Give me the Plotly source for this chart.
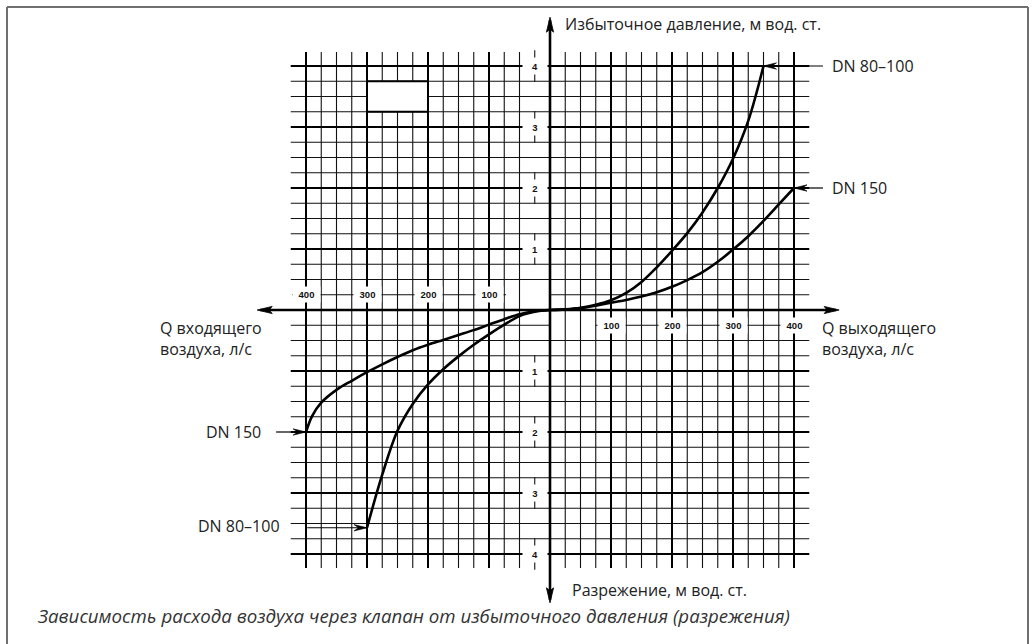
import numpy as np
import plotly.graph_objects as go

# ---------------- data ----------------
# positive side: outgoing air flow Q (l/s) vs overpressure (m w.c.)
dn80_pos_q = [0, 25, 50, 75, 100, 125, 150, 175, 200, 225, 250, 275, 300, 325, 350]
dn80_pos_p = [0, 0.01, 0.035, 0.085, 0.16, 0.28, 0.46, 0.70, 0.97, 1.26, 1.60, 2.00, 2.48, 3.10, 4.00]
dn150_pos_q = [0, 25, 50, 75, 100, 125, 150, 175, 200, 225, 250, 275, 300, 325, 350, 375, 400]
dn150_pos_p = [0, 0.01, 0.03, 0.07, 0.12, 0.165, 0.22, 0.29, 0.38, 0.49, 0.62, 0.79, 0.99, 1.21, 1.46, 1.73, 2.00]
# negative side: incoming air flow vs vacuum
dn150_neg_q = [0, -25, -50, -75, -100, -125, -150, -175, -200, -225, -250, -275, -300, -325, -350, -375, -390, -400]
dn150_neg_p = [0, -0.02, -0.07, -0.15, -0.24, -0.33, -0.41, -0.49, -0.57, -0.66, -0.77, -0.89, -1.02, -1.16, -1.31, -1.52, -1.74, -2.00]
dn80_neg_q = [0, -25, -50, -75, -100, -125, -150, -175, -200, -225, -250, -275, -300]
dn80_neg_p = [0, -0.03, -0.10, -0.24, -0.40, -0.57, -0.76, -0.97, -1.22, -1.54, -1.98, -2.70, -3.57]

q_tick_vals = [-400, -300, -200, -100, 100, 200, 300, 400]
q_tick_text = ["400", "300", "200", "100", "100", "200", "300", "400"]
p_tick_vals = [4, 3, 2, 1, -1, -2, -3, -4]
p_tick_text = ["4", "3", "2", "1", "1", "2", "3", "4"]

series_labels = ["DN 80–100", "DN 150", "DN 150", "DN 80–100"]

title_top = "Избыточное давление, м вод. ст."
title_bottom = "Разрежение, м вод. ст."
title_left = "Q входящего<br>воздуха, л/с"
title_right = "Q выходящего<br>воздуха, л/с"
caption = "Зависимость расхода воздуха через клапан от избыточного давления (разрежения)"

# ---------------- geometry ----------------
W, H = 1035, 644
XR = [-550 / 0.61, 485 / 0.61]
YR = [(310 - 644) / 61, 310 / 61]
SX = W / (XR[1] - XR[0])   # px per x unit
SY = H / (YR[1] - YR[0])   # px per y unit

QMAX, PMAX = 400, 4
Q_EXT = QMAX + 25          # horizontal grid lines overhang
P_EXT = PMAX + 0.23        # vertical grid lines overhang

TXT = "#222222"
FONT = "Open Sans"


def seg_trace(segs, width, color="#111111"):
    xs, ys = [], []
    for (x0, y0, x1, y1) in segs:
        xs += [x0, x1, None]
        ys += [y0, y1, None]
    return go.Scatter(x=xs, y=ys, mode="lines", hoverinfo="skip",
                      line=dict(color=color, width=width), showlegend=False)


fig = go.Figure()

# minor grid
minor = []
for k in range(-16, 17):
    q = 25 * k
    if k == 0 or k % 4 == 0 or k == -1:
        continue
    minor.append((q, -P_EXT, q, P_EXT))
for k in range(-16, 17):
    p = 0.25 * k
    if k == 0 or k % 4 == 0:
        continue
    if k == 1:      # label row for negative Q
        minor.append((0, p, Q_EXT, p))
        minor.append((-QMAX - 23, p, -72, p))
    elif k == -1:   # label row for positive Q
        minor.append((-Q_EXT, p, 0, p))
        minor.append((75, p, QMAX + 15, p))
    else:
        minor.append((-Q_EXT, p, Q_EXT, p))
# stubs of the label column (q = -25)
for p in p_tick_vals:
    minor.append((-25, p - 0.26, -25, p + 0.26))
fig.add_trace(seg_trace(minor, 1.1))

# major grid
major = []
for q in range(-QMAX, QMAX + 1, 100):
    if q != 0:
        major.append((q, -P_EXT, q, P_EXT))
for p in range(-PMAX, PMAX + 1):
    if p != 0:
        major.append((-Q_EXT, p, Q_EXT, p))
fig.add_trace(seg_trace(major, 2.0, "#000000"))

# axes
X_TIP_L, X_TIP_R = -480, 474
Y_TIP_T, Y_TIP_B = 4.80, -4.80
fig.add_trace(seg_trace([(X_TIP_L + 5, 0, X_TIP_R - 5, 0), (0, Y_TIP_B + 0.05, 0, Y_TIP_T - 0.05)], 2.6, "#000000"))

# curves
for qs, ps in [(dn80_pos_q, dn80_pos_p), (dn150_pos_q, dn150_pos_p),
               (dn150_neg_q, dn150_neg_p), (dn80_neg_q, dn80_neg_p)]:
    fig.add_trace(go.Scatter(x=qs, y=ps, mode="lines", hoverinfo="skip", showlegend=False,
                             line=dict(color="#000000", width=2.6, shape="spline", smoothing=1.0)))


def head_path(xt, yt, d, L, hw, notch=0.0):
    ux, uy = {"r": (1, 0), "l": (-1, 0), "u": (0, 1), "d": (0, -1)}[d]
    px = [(0, 0), (-L, hw), (-L + notch, 0), (-L, -hw)]
    pts = []
    for a, b in px:
        dx = a * ux + b * (-uy)
        dy = a * uy + b * ux
        pts.append((xt + dx / SX, yt + dy / SY))
    return "M " + " L ".join(f"{x:.4f},{y:.5f}" for x, y in pts) + " Z"


shapes = []
# axis arrow heads
for (xt, yt, d) in [(X_TIP_L, 0, "l"), (X_TIP_R, 0, "r"), (0, Y_TIP_T, "u"), (0, Y_TIP_B, "d")]:
    shapes.append(dict(type="path", path=head_path(xt, yt, d, 15, 3.6, 3), xref="x", yref="y",
                       fillcolor="#000000", line=dict(color="#000000", width=0.8), layer="above"))

# white box in the grid
shapes.append(dict(type="rect", x0=-300, x1=-200, y0=3.25, y1=3.75, xref="x", yref="y",
                   fillcolor="white", line=dict(color="#000000", width=2), layer="above"))

# label pointers
ends = [(dn80_pos_q[-1], dn80_pos_p[-1]), (dn150_pos_q[-1], dn150_pos_p[-1]),
        (dn150_neg_q[-1], dn150_neg_p[-1]), (dn80_neg_q[-1], dn80_neg_p[-1])]
tails = [447.5, 447.5, -449, -398]
dirs = ["l", "l", "r", "r"]
for (xe, ye), xt, d in zip(ends, tails, dirs):
    shapes.append(dict(type="line", x0=xt, x1=xe, y0=ye, y1=ye, xref="x", yref="y",
                       line=dict(color="#000000", width=1.2), layer="above"))
    shapes.append(dict(type="path", path=head_path(xe, ye, d, 13, 3.2, 4.5), xref="x", yref="y",
                       fillcolor="#000000", line=dict(color="#000000", width=0.6), layer="above"))

# frame
fx0, fx1, fy1 = 7 / W, 1028 / W, 1 - 7 / H
for (x0, y0, x1, y1) in [(fx0, -0.05, fx0, fy1), (fx0, fy1, fx1, fy1), (fx1, fy1, fx1, -0.05)]:
    shapes.append(dict(type="line", x0=x0, y0=y0, x1=x1, y1=y1, xref="paper", yref="paper",
                       line=dict(color="#707070", width=2)))

ann = []
tick_font = dict(family="Liberation Sans, Arial", size=9.5, color="#111111")
for q, t in zip(q_tick_vals, q_tick_text):
    ann.append(dict(x=q, y=0.25 if q < 0 else -0.25, text=f"<b>{t}</b>", showarrow=False, font=tick_font,
                    bgcolor="white", width=25, height=13, xanchor="center", yanchor="middle"))
for p, t in zip(p_tick_vals, p_tick_text):
    ann.append(dict(x=-25, y=p, text=f"<b>{t}</b>", showarrow=False, font=tick_font,
                    bgcolor="white", width=22, height=14, xanchor="center", yanchor="middle"))

lab_font = dict(family=FONT, size=16, color=TXT)
ann.append(dict(x=22.0, y=4.69, text=title_top, showarrow=False, font=lab_font, xanchor="left", yanchor="middle"))
ann.append(dict(x=32.0, y=-4.59, text=title_bottom, showarrow=False, font=lab_font, xanchor="left", yanchor="middle"))
ann.append(dict(x=-642, y=-0.475, text=title_left, showarrow=False, font=lab_font, xanchor="left", yanchor="middle", align="left"))
ann.append(dict(x=443.0, y=-0.475, text=title_right, showarrow=False, font=lab_font, xanchor="left", yanchor="middle", align="left"))

lab_pos = [(459.0, ends[0][1], "left"), (459.0, ends[1][1], "left"),
           (-470.5, ends[2][1], "right"), (-439.3, ends[3][1] + 0.03, "right")]
for (x, y, anc), t in zip(lab_pos, series_labels):
    ann.append(dict(x=x, y=y, text=t, showarrow=False, font=lab_font, xanchor=anc, yanchor="middle"))

ann.append(dict(x=35 / W, y=1 - 615 / H, xref="paper", yref="paper", text=f"<i>{caption}</i>",
                showarrow=False, font=dict(family=FONT, size=18.7, color="#333333"),
                xanchor="left", yanchor="middle"))

fig.update_layout(
    width=W, height=H, margin=dict(l=0, r=0, t=0, b=0, pad=0),
    paper_bgcolor="white", plot_bgcolor="white", showlegend=False,
    xaxis=dict(range=XR, visible=False, fixedrange=True),
    yaxis=dict(range=YR, visible=False, fixedrange=True),
    shapes=shapes, annotations=ann,
)

fig.write_html("out.html", config={"displayModeBar": False},
               post_script="document.body.style.margin='0';document.body.style.overflow='hidden';")
